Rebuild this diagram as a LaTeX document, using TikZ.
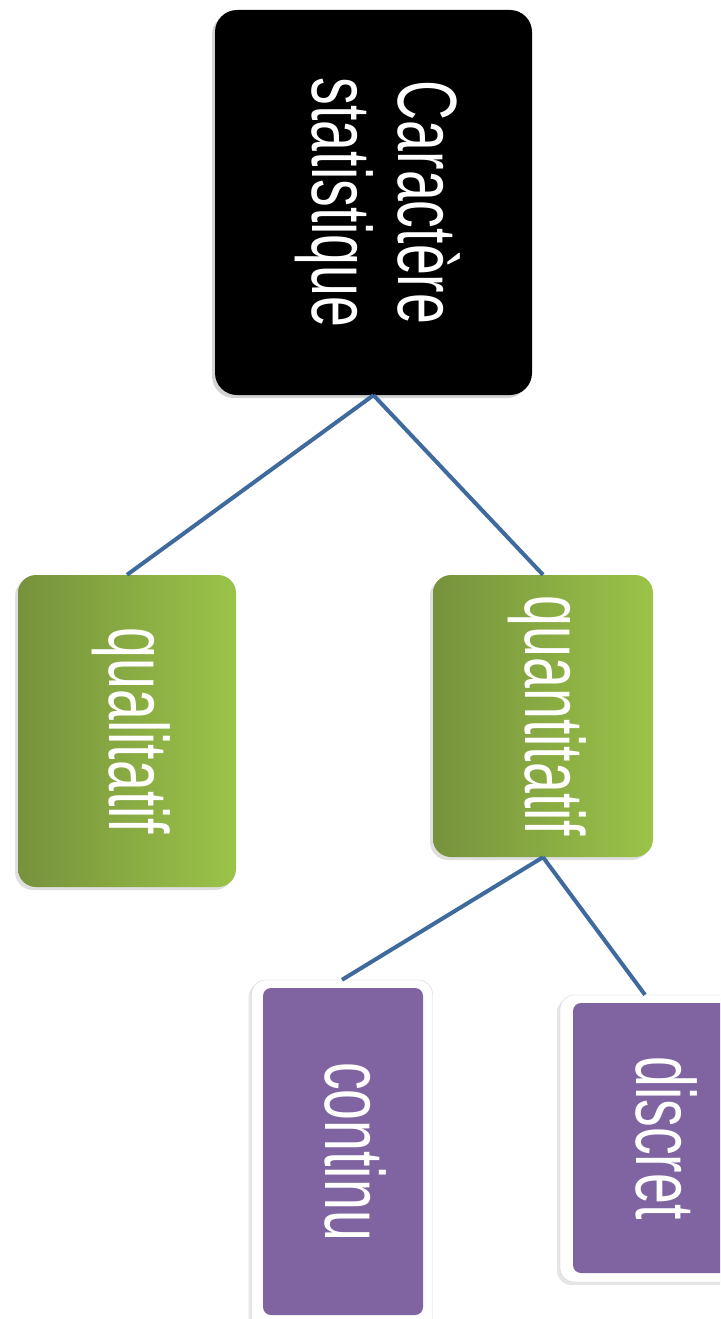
\documentclass[tikz,border=0pt]{standalone}
\usepackage{graphicx}
\usepackage{xcolor}
\usepackage{fontspec}
\setmainfont{Liberation Sans}[FakeStretch=0.66]
\usepackage{tikz}
\usetikzlibrary{shadows}

\definecolor{greenL}{HTML}{76923C}
\definecolor{greenR}{HTML}{9BC349}
\definecolor{violetS}{HTML}{8064A2}
\definecolor{linkB}{HTML}{3E6A9E}

\newcommand{\vlabel}[1]{\rotatebox[origin=c]{-90}{\begin{tabular}{@{}c@{}}#1\end{tabular}}}

\begin{document}
\begin{tikzpicture}[x=1pt,y=-1pt,
box/.style={rectangle,inner sep=0pt,text=white,font=\fontsize{84}{86}\selectfont},
root/.style={box,fill=black,rounded corners=22pt,
  drop shadow={opacity=.35,shadow xshift=-3pt,shadow yshift=-3pt}},
kind/.style={box,left color=greenL,right color=greenR,rounded corners=18pt,
  drop shadow={opacity=.25,shadow xshift=-3pt,shadow yshift=-3pt}},
frame/.style={rectangle,inner sep=0pt,fill=white,draw=gray!35,rounded corners=14pt,
  drop shadow={opacity=.2,shadow xshift=-3pt,shadow yshift=-3pt}},
leaf/.style={box,fill=violetS,rounded corners=8pt},
link/.style={draw=linkB,line width=4pt}]
\useasboundingbox (0,0) rectangle (720,1319);
\clip (0,0) rectangle (720,1319);
\node[root,minimum width=317pt,minimum height=385pt] (car) at (373.5,202.5) {\vlabel{Caractère\\statistique}};
\node[kind,minimum width=218pt,minimum height=312pt] (quali) at (127,731) {\vlabel{qualitatif}};
\node[kind,minimum width=220pt,minimum height=282pt] (quanti) at (543,716) {\vlabel{quantitatif}};
\node[frame,minimum width=181pt,minimum height=360pt] (contf) at (342,1160) {};
\node[leaf,minimum width=160pt,minimum height=327pt] (cont) at (343,1151.5) {\vlabel{continu}};
\node[frame,minimum width=188pt,minimum height=287pt] (discf) at (654,1138.5) {};
\node[leaf,minimum width=162pt,minimum height=270pt] (disc) at (654,1138) {\vlabel{discret}};
\draw[link] (car.south)--(quali.north);\draw[link] (car.south)--(quanti.north);
\draw[link] (quanti.south)--(contf.north);\draw[link] (quanti.south)--([xshift=-9pt]discf.north);
\end{tikzpicture}
\end{document}
